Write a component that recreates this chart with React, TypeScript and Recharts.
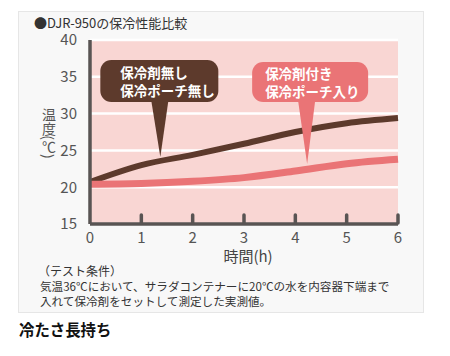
import { LineChart, Line, XAxis, YAxis, CartesianGrid, ReferenceDot } from "recharts";

const hours = [0, 1, 2, 3, 4, 5, 6];
const noCoolerTemps = [20.7, 23.0, 24.4, 25.9, 27.5, 28.7, 29.4];
const withCoolerTemps = [20.4, 20.5, 20.8, 21.3, 22.2, 23.2, 23.8];
const xTicks = [0, 1, 2, 3, 4, 5, 6];
const yTicks = [15, 20, 25, 30, 35, 40];

const data = hours.map((h, i) => ({
  hour: h,
  noCooler: noCoolerTemps[i],
  withCooler: withCoolerTemps[i],
}));

const FONT = '"Noto Sans CJK JP", "Noto Sans", sans-serif';
const AXIS = "#595453";
const BROWN = "#5d3a2c";
const PINK = "#ea7476";

const XTick = ({ x, y, payload }: any) => (
  <g>
    {payload.value > 0 && (
      <line x1={x} y1={y - 1} x2={x} y2={y - 9} stroke={AXIS} strokeWidth={3.5} strokeLinecap="round" />
    )}
    <text x={x} y={y + 19} textAnchor="middle" fontSize={15} fill="#555" fontFamily={FONT}>
      {payload.value}
    </text>
  </g>
);

const XLabel = ({ viewBox }: any) => (
  <text
    x={viewBox.x + viewBox.width / 2 + 4}
    y={viewBox.y + 38}
    textAnchor="middle"
    fontSize={15}
    fill="#444"
    fontFamily={FONT}
  >
    時間(h)
  </text>
);

// vertical label, parens turn with the writing mode
const YLabel = ({ viewBox }: any) => (
  <text
    x={viewBox.x + 9}
    y={viewBox.y + viewBox.height / 2 + 1}
    textAnchor="middle"
    fontSize={14}
    fill="#555"
    fontFamily={FONT}
    style={{ writingMode: "vertical-rl" }}
  >
    温度(℃)
  </text>
);

const Bubble = ({ cx, cy, color, box, base, lines, textX, textY }: any) => (
  <g>
    <rect x={cx + box[0]} y={cy + box[1]} width={box[2]} height={box[3]} rx={11} fill={color} />
    <polygon
      points={`${cx + base[0]},${cy + box[1] + box[3] - 1} ${cx + base[1]},${cy + box[1] + box[3] - 1} ${cx},${cy}`}
      fill={color}
    />
    <text
      x={cx + textX}
      y={cy + textY}
      fontSize={13.5}
      fontWeight={700}
      fill="#fff"
      fontFamily={FONT}
      dominantBaseline="central"
    >
      {lines.map((t: string, i: number) => (
        <tspan key={t} x={cx + textX} dy={i === 0 ? 0 : 18}>
          {t}
        </tspan>
      ))}
    </text>
  </g>
);

export default function App() {
  return (
    <div style={{ position: "absolute", left: 0, top: 0, width: 450, height: 356, background: "#fff", fontFamily: FONT }}>
      <div
        style={{
          position: "absolute",
          left: 18,
          top: 11,
          width: 404,
          height: 300,
          background: "#f8f8f8",
          border: "1px solid #e6e6e6",
        }}
      />
      <div style={{ position: "absolute", left: 34, top: 16, lineHeight: "14px", fontSize: 13, color: "#333" }}>
        ●DJR-950の保冷性能比較
      </div>
      <div style={{ position: "absolute", left: 0, top: 0 }}>
        <LineChart width={450} height={356} data={data} margin={{ top: 40, right: 52, bottom: 102, left: 40 }}>
          <CartesianGrid vertical={false} fill="#f9d6d3" stroke="#fff" strokeWidth={2.5} />
          <XAxis
            dataKey="hour"
            type="number"
            domain={[0, 6]}
            ticks={xTicks}
            height={30}
            tickSize={0}
            tickMargin={0}
            tickLine={false}
            axisLine={{ stroke: AXIS, strokeWidth: 3.5 }}
            tick={<XTick />}
            label={{ content: <XLabel /> }}
          />
          <YAxis
            type="number"
            domain={[15, 40]}
            ticks={yTicks}
            width={50}
            tickLine={false}
            tickMargin={7}
            axisLine={{ stroke: AXIS, strokeWidth: 3.5 }}
            tick={{ fontSize: 15, fill: "#555", fontFamily: FONT }}
            label={{ content: <YLabel /> }}
          />
          <Line type="monotone" dataKey="noCooler" stroke={BROWN} strokeWidth={6} dot={false} isAnimationActive={false} />
          <Line type="monotone" dataKey="withCooler" stroke={PINK} strokeWidth={7} dot={false} isAnimationActive={false} />
          <ReferenceDot
            x={1.37}
            y={24.1}
            shape={(p: any) => (
              <Bubble
                cx={p.cx}
                cy={p.cy}
                color={BROWN}
                box={[-60, -97, 118, 42]}
                base={[-9, 8]}
                lines={["保冷剤無し", "保冷ポーチ無し"]}
                textX={-40}
                textY={-85}
              />
            )}
          />
          <ReferenceDot
            x={4.23}
            y={23.15}
            shape={(p: any) => (
              <Bubble
                cx={p.cx}
                cy={p.cy}
                color={PINK}
                box={[-55, -102, 116, 40]}
                base={[-9, 8]}
                lines={["保冷剤付き", "保冷ポーチ入り"]}
                textX={-42}
                textY={-91}
              />
            )}
          />
        </LineChart>
      </div>
      <div style={{ position: "absolute", left: 38, top: 264, fontSize: 12, lineHeight: "14px", color: "#333" }}>
        （テスト条件）
      </div>
      <div style={{ position: "absolute", left: 40, top: 279, fontSize: 11.6, lineHeight: "15px", color: "#333", whiteSpace: "nowrap" }}>
        気温36℃において、サラダコンテナーに20℃の水を内容器下端まで
        <br />
        入れて保冷剤をセットして測定した実測値。
      </div>
      <div style={{ position: "absolute", left: 19, top: 319, fontSize: 15.4, lineHeight: "20px", fontWeight: 700, color: "#111" }}>
        冷たさ長持ち
      </div>
    </div>
  );
}
